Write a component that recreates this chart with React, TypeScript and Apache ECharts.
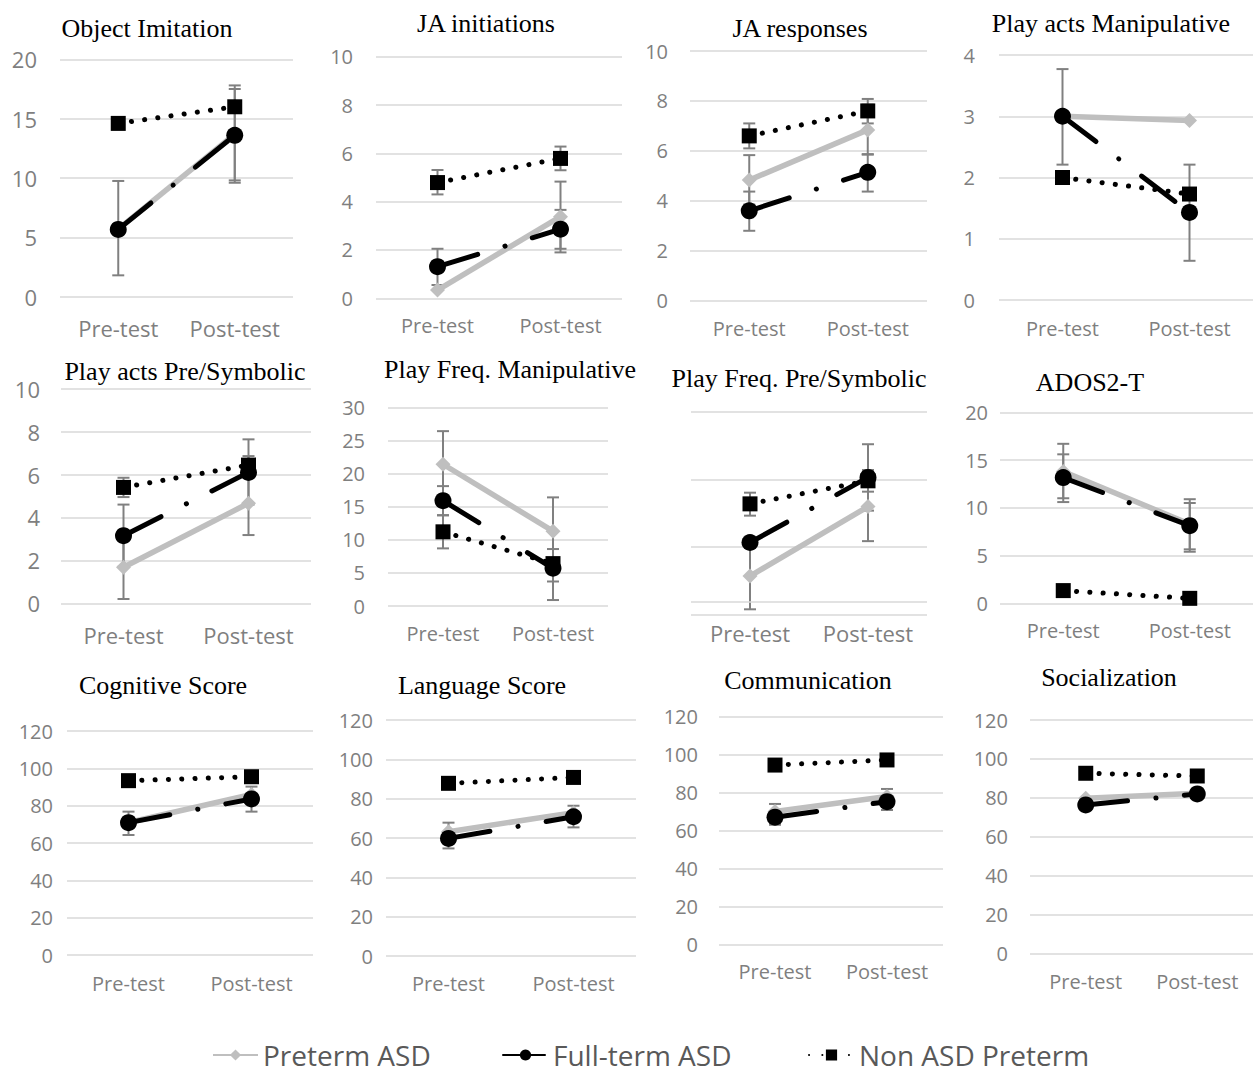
import React, { useEffect, useRef } from "react";
import * as echarts from "echarts";

const categories = ["Pre-test", "Post-test"];

const panelTitles = [
  "Object Imitation",
  "JA initiations",
  "JA responses",
  "Play acts Manipulative",
  "Play acts Pre/Symbolic",
  "Play Freq. Manipulative",
  "Play Freq. Pre/Symbolic",
  "ADOS2-T",
  "Cognitive Score",
  "Language Score",
  "Communication",
  "Socialization",
];

const yMaxes = [20, 10, 10, 4, 10, 30, 30, 20, 120, 120, 120, 120];
const yIntervals = [5, 2, 2, 1, 2, 5, 10, 5, 20, 20, 20, 20];

const pretermASD = [
  [5.7, 13.7],
  [0.34, 3.38],
  [4.83, 6.84],
  [3.0, 2.93],
  [1.68, 4.66],
  [21.4, 11.3],
  [5.75, 16.0],
  [13.8, 8.3],
  [71, 86],
  [63.2, 72.9],
  [70, 77.9],
  [79.7, 82.3],
];

const fullTermASD = [
  [5.67, 13.6],
  [1.31, 2.86],
  [3.6, 5.14],
  [3.0, 1.43],
  [3.15, 6.1],
  [15.9, 5.7],
  [10.7, 20.3],
  [13.16, 8.13],
  [70.9, 83.6],
  [59.8, 70.8],
  [67, 75.2],
  [76.3, 82],
];

const nonASDPreterm = [
  [14.6, 16.0],
  [4.79, 5.79],
  [6.6, 7.6],
  [2.0, 1.73],
  [5.4, 6.44],
  [11.2, 6.4],
  [16.4, 19.8],
  [1.33, 0.52],
  [93.4, 95.5],
  [87.8, 90.8],
  [94.5, 97.2],
  [92.6, 91.2],
];

// [category index, low, high]
const errorBars = [
  [[0, 1.8, 9.75], [1, 9.6, 17.5], [1, 9.8, 17.8]],
  [[0, 4.3, 5.31], [0, 0.55, 2.05], [1, 5.3, 6.28], [1, 1.9, 4.83], [1, 2.05, 3.66]],
  [[0, 6.1, 7.1], [0, 3.85, 5.83], [0, 2.8, 4.37], [1, 7.1, 8.08], [1, 5.85, 7.85], [1, 4.37, 5.87]],
  [[0, 2.21, 3.77], [1, 0.64, 2.21]],
  [[0, 4.95, 5.85], [0, 1.7, 4.6], [0, 0.2, 3.2], [1, 4.6, 7.64], [1, 6.0, 6.86], [1, 3.18, 6.14]],
  [[0, 16.4, 26.4], [0, 13.7, 18.1], [0, 8.7, 13.7], [1, 6.3, 16.4], [1, 3.7, 8.6], [1, 0.9, 5.7]],
  [[0, 14.66, 18.05], [0, 0.84, 10.66], [1, 15.4, 25.2], [1, 10.9, 21.1], [1, 18.2, 21.4]],
  [[0, 10.6, 15.6], [0, 11.0, 16.7], [1, 5.4, 10.9], [1, 5.65, 10.5]],
  [[0, 64.3, 76.8], [1, 76.8, 90.2]],
  [[0, 54.7, 67.8], [1, 65.4, 76.4]],
  [[0, 63, 74], [1, 70.8, 81.9]],
  [],
];

// layout: left, right, top (y of max), bottom (y of 0), title center x/y, font size, x label center y, y label gap
const layout = [
  { l: 60, r: 293, t: 59.3, b: 296.7, tx: 147, ty: 28, fs: 22, xl: 330, yg: 23 },
  { l: 376, r: 622, t: 56.7, b: 298.3, tx: 486, ty: 23, fs: 20, xl: 327, yg: 23 },
  { l: 690, r: 927, t: 51, b: 300.7, tx: 800, ty: 28, fs: 20, xl: 330, yg: 22 },
  { l: 999, r: 1263, t: 55, b: 300, tx: 1111, ty: 23, fs: 20, xl: 330, yg: 24 },
  { l: 61, r: 311, t: 388.7, b: 603.3, tx: 185, ty: 371, fs: 22, xl: 637, yg: 21 },
  { l: 388, r: 608, t: 407.3, b: 606, tx: 510, ty: 369, fs: 20, xl: 635, yg: 23 },
  { l: 691, r: 927, t: 411.7, b: 615, tx: 799, ty: 378, fs: 22, xl: 635, yg: 22 },
  { l: 1000, r: 1260, t: 412.3, b: 603.3, tx: 1090, ty: 382, fs: 20, xl: 632, yg: 12 },
  { l: 67, r: 313, t: 731, b: 955, tx: 163, ty: 685, fs: 20, xl: 985, yg: 14 },
  { l: 386, r: 636, t: 720, b: 956, tx: 482, ty: 685, fs: 20, xl: 985, yg: 13 },
  { l: 719, r: 943, t: 716.7, b: 944.3, tx: 808, ty: 680, fs: 20, xl: 973, yg: 21 },
  { l: 1030, r: 1260, t: 720, b: 953.3, tx: 1109, ty: 677, fs: 20, xl: 983, yg: 22 },
];

const GRID_COLOR = "#D9D9D9";
const LABEL_COLOR = "#7F7F7F";
const ERR_COLOR = "#808080";

export default function App() {
  const ref = useRef<HTMLDivElement>(null);

  useEffect(() => {
    if (!ref.current) return;
    const chart = echarts.init(ref.current, null, { renderer: "svg" });

    const grids: any[] = [];
    const xAxes: any[] = [];
    const yAxes: any[] = [];
    const series: any[] = [];
    const graphics: any[] = [];

    layout.forEach((g, i) => {
      grids.push({
        left: g.l,
        top: g.t,
        width: g.r - g.l,
        height: g.b - g.t,
        containLabel: false,
      });
      xAxes.push({
        type: "category",
        gridIndex: i,
        data: categories,
        boundaryGap: true,
        axisLine: { show: false },
        axisTick: { show: false },
        axisLabel: {
          color: LABEL_COLOR,
          fontFamily: "Open Sans",
          fontSize: g.fs,
          margin: Math.max(0, g.xl - g.b - g.fs * 0.6),
          interval: 0,
        },
      });
      yAxes.push({
        type: "value",
        gridIndex: i,
        min: 0,
        max: yMaxes[i],
        interval: yIntervals[i],
        axisLine: { show: false },
        axisTick: { show: false },
        splitLine: { lineStyle: { color: GRID_COLOR, width: 1.5 } },
        axisLabel: {
          show: i !== 6,
          color: LABEL_COLOR,
          fontFamily: "Open Sans",
          fontSize: g.fs,
          margin: g.yg,
        },
      });

      graphics.push({
        type: "text",
        x: g.tx,
        y: g.ty,
        style: {
          text: panelTitles[i],
          fill: "#000",
          fontFamily: "Liberation Serif",
          fontSize: 26,
          align: "center",
          verticalAlign: "middle",
        },
      });

      series.push({
        type: "custom",
        name: "errors" + i,
        xAxisIndex: i,
        yAxisIndex: i,
        z: 1,
        silent: true,
        data: errorBars[i],
        encode: { x: 0, y: [1, 2] },
        renderItem: (params: any, api: any) => {
          const c = api.value(0);
          const lo = api.coord([c, api.value(1)]);
          const hi = api.coord([c, api.value(2)]);
          const w = 6;
          const st = { stroke: ERR_COLOR, lineWidth: 2 };
          return {
            type: "group",
            children: [
              { type: "line", shape: { x1: lo[0], y1: lo[1], x2: hi[0], y2: hi[1] }, style: st },
              { type: "line", shape: { x1: lo[0] - w, y1: lo[1], x2: lo[0] + w, y2: lo[1] }, style: st },
              { type: "line", shape: { x1: hi[0] - w, y1: hi[1], x2: hi[0] + w, y2: hi[1] }, style: st },
            ],
          };
        },
      });

      series.push({
        type: "line",
        name: "Preterm ASD",
        xAxisIndex: i,
        yAxisIndex: i,
        z: 2,
        data: pretermASD[i],
        symbol: "diamond",
        symbolSize: 15,
        showSymbol: true,
        clip: false,
        lineStyle: { color: "#BFBFBF", width: 5.5 },
        itemStyle: { color: "#BFBFBF" },
      });
      series.push({
        type: "line",
        name: "Full-term ASD",
        xAxisIndex: i,
        yAxisIndex: i,
        z: 3,
        data: fullTermASD[i],
        symbol: "circle",
        symbolSize: 17,
        showSymbol: true,
        clip: false,
        lineStyle: { color: "#000", width: 5, type: [42, 28.5, 0.1, 28.5], cap: "round" },
        itemStyle: { color: "#000" },
      });
      series.push({
        type: "line",
        name: "Non ASD Preterm",
        xAxisIndex: i,
        yAxisIndex: i,
        z: 4,
        data: nonASDPreterm[i],
        symbol: "rect",
        symbolSize: 15,
        showSymbol: true,
        clip: false,
        lineStyle: { color: "#000", width: 5, type: [0.1, 13.2], cap: "round" },
        itemStyle: { color: "#000" },
        markLine:
          i === 6
            ? {
                silent: true,
                symbol: "none",
                label: { show: false },
                lineStyle: { color: GRID_COLOR, width: 1.5, type: "solid" },
                data: [{ yAxis: 2 }],
              }
            : undefined,
      });
    });

    const legendText = {
      fontFamily: "Open Sans",
      fontSize: 28,
      lineHeight: 28,
      color: "#595959",
    };
    const legendBase = {
      top: 1041,
      padding: 0,
      itemWidth: 45,
      itemHeight: 14,
      selectedMode: false,
      textStyle: legendText,
    };

    const option: any = {
      animation: false,
      backgroundColor: "#fff",
      grid: grids,
      xAxis: xAxes,
      yAxis: yAxes,
      series,
      graphic: graphics,
      legend: [
        { ...legendBase, left: 212, data: ["Preterm ASD"] },
        { ...legendBase, left: 502, data: ["Full-term ASD"] },
        { ...legendBase, left: 808, data: ["Non ASD Preterm"] },
      ],
    };

    chart.setOption(option);
    return () => chart.dispose();
  }, []);

  return (
    <div
      ref={ref}
      style={{
        position: "fixed",
        left: 0,
        top: 0,
        width: 1253,
        height: 1074,
        background: "#fff",
      }}
    />
  );
}
